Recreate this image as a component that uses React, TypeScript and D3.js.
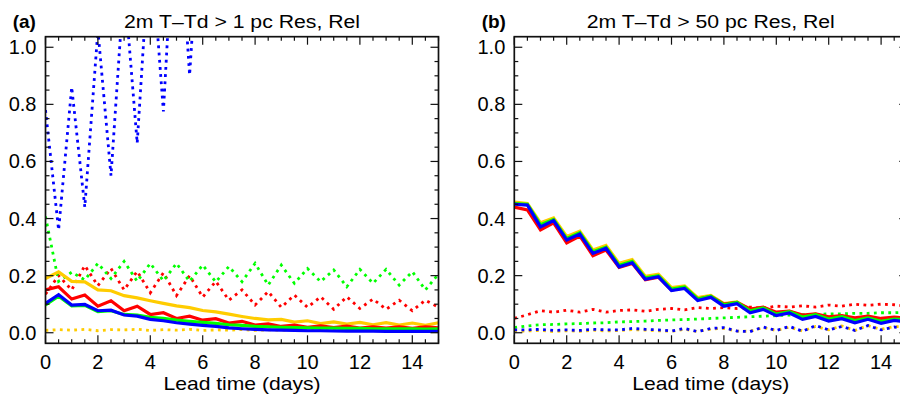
import React from 'react';
import * as d3 from 'd3';

// Lead time (days), 12-hourly
const leadTime = [0, 0.5, 1, 1.5, 2, 2.5, 3, 3.5, 4, 4.5, 5, 5.5, 6, 6.5, 7, 7.5, 8, 8.5, 9, 9.5, 10, 10.5, 11, 11.5, 12, 12.5, 13, 13.5, 14, 14.5, 15];

const xTickLabels = [0, 2, 4, 6, 8, 10, 12, 14];
const yTickLabels = [0.0, 0.2, 0.4, 0.6, 0.8, 1.0];

// Panel (a): 2m T-Td > 1 pc
const aYellowSolid = [0.19, 0.213, 0.18, 0.178, 0.15, 0.147, 0.13, 0.122, 0.112, 0.103, 0.094, 0.088, 0.078, 0.073, 0.065, 0.057, 0.05, 0.045, 0.047, 0.037, 0.042, 0.032, 0.038, 0.03, 0.036, 0.028, 0.035, 0.027, 0.034, 0.026, 0.035];
const aRedSolid = [0.15, 0.161, 0.118, 0.132, 0.093, 0.112, 0.077, 0.093, 0.064, 0.07, 0.05, 0.058, 0.044, 0.049, 0.034, 0.04, 0.027, 0.031, 0.022, 0.027, 0.019, 0.024, 0.018, 0.023, 0.016, 0.021, 0.016, 0.021, 0.015, 0.021, 0.017];
const aGreenSolid = [0.097, 0.128, 0.094, 0.096, 0.074, 0.077, 0.064, 0.062, 0.054, 0.05, 0.044, 0.04, 0.036, 0.033, 0.028, 0.026, 0.022, 0.021, 0.019, 0.018, 0.017, 0.016, 0.016, 0.015, 0.015, 0.014, 0.014, 0.014, 0.014, 0.013, 0.014];
const aBlueSolid = [0.103, 0.133, 0.097, 0.099, 0.077, 0.079, 0.062, 0.058, 0.047, 0.042, 0.035, 0.03, 0.026, 0.022, 0.017, 0.014, 0.012, 0.01, 0.009, 0.008, 0.007, 0.007, 0.006, 0.006, 0.006, 0.006, 0.005, 0.005, 0.005, 0.005, 0.005];
const aYellowDot = [0.008, 0.011, 0.009, 0.012, 0.007, 0.011, 0.01, 0.012, 0.008, 0.011, 0.009, 0.012, 0.008, 0.01, 0.009, 0.011, 0.008, 0.01, 0.009, 0.011, 0.008, 0.01, 0.009, 0.011, 0.008, 0.01, 0.009, 0.011, 0.008, 0.01, 0.009];
const aRedDot = [0.135, 0.2, 0.15, 0.235, 0.165, 0.225, 0.15, 0.215, 0.14, 0.21, 0.13, 0.2, 0.125, 0.18, 0.114, 0.15, 0.097, 0.144, 0.089, 0.132, 0.089, 0.126, 0.082, 0.126, 0.085, 0.118, 0.082, 0.114, 0.077, 0.114, 0.089];
const aGreenDot = [0.407, 0.18, 0.212, 0.185, 0.243, 0.19, 0.25, 0.18, 0.243, 0.182, 0.243, 0.18, 0.237, 0.178, 0.232, 0.179, 0.243, 0.167, 0.237, 0.173, 0.225, 0.179, 0.22, 0.161, 0.222, 0.173, 0.222, 0.167, 0.214, 0.15, 0.206];
const aBlueDot = [0.78, 0.36, 0.86, 0.44, 1.06, 0.55, 1.23, 0.664, 1.39, 0.775, 1.6, 0.903, 1.6];

// Panel (b): 2m T-Td > 50 pc
const bYellowSolid = [0.458, 0.453, 0.385, 0.402, 0.337, 0.356, 0.29, 0.306, 0.243, 0.256, 0.198, 0.205, 0.158, 0.164, 0.123, 0.131, 0.102, 0.108, 0.08, 0.089, 0.068, 0.076, 0.058, 0.065, 0.05, 0.058, 0.045, 0.054, 0.042, 0.05, 0.048];
const bRedSolid = [0.44, 0.43, 0.36, 0.385, 0.315, 0.339, 0.27, 0.29, 0.229, 0.243, 0.186, 0.195, 0.15, 0.158, 0.118, 0.127, 0.1, 0.106, 0.083, 0.09, 0.072, 0.076, 0.062, 0.066, 0.056, 0.06, 0.052, 0.058, 0.05, 0.055, 0.05];
const bGreenSolid = [0.452, 0.45, 0.378, 0.397, 0.33, 0.35, 0.284, 0.3, 0.236, 0.25, 0.192, 0.2, 0.153, 0.16, 0.118, 0.128, 0.098, 0.106, 0.077, 0.087, 0.065, 0.074, 0.055, 0.063, 0.048, 0.056, 0.043, 0.052, 0.04, 0.048, 0.045];
const bBlueSolid = [0.45, 0.447, 0.371, 0.393, 0.325, 0.346, 0.278, 0.296, 0.231, 0.245, 0.187, 0.196, 0.148, 0.155, 0.113, 0.124, 0.093, 0.102, 0.07, 0.082, 0.06, 0.069, 0.047, 0.057, 0.041, 0.049, 0.035, 0.047, 0.033, 0.043, 0.038];
const bYellowDot = [0.005, 0.006, 0.008, 0.004, 0.007, 0.005, 0.009, 0.006, 0.008, 0.011, 0.009, 0.007, 0.005, 0.012, 0.004, 0.013, 0.015, 0.006, 0.005, 0.018, 0.008, 0.02, 0.006, 0.022, 0.01, 0.024, 0.008, 0.025, 0.012, 0.022, 0.02];
const bRedDot = [0.05, 0.063, 0.077, 0.072, 0.079, 0.072, 0.082, 0.072, 0.078, 0.08, 0.075, 0.082, 0.085, 0.08, 0.088, 0.085, 0.088, 0.085, 0.09, 0.086, 0.093, 0.09, 0.094, 0.09, 0.097, 0.093, 0.1, 0.096, 0.1, 0.098, 0.093];
const bGreenDot = [0.018, 0.024, 0.028, 0.029, 0.031, 0.032, 0.034, 0.035, 0.038, 0.039, 0.041, 0.043, 0.045, 0.046, 0.048, 0.05, 0.052, 0.054, 0.056, 0.058, 0.06, 0.062, 0.063, 0.064, 0.066, 0.066, 0.068, 0.068, 0.07, 0.07, 0.072];
const bBlueDot = [0.01, 0.01, 0.012, 0.008, 0.01, 0.008, 0.012, 0.01, 0.01, 0.015, 0.012, 0.01, 0.006, 0.015, 0.004, 0.015, 0.018, 0.006, 0.004, 0.02, 0.008, 0.022, 0.005, 0.025, 0.01, 0.022, 0.008, 0.025, 0.01, 0.02, 0.015];

const YELLOW = '#ffcc00';
const RED = '#ff0000';
const GREEN = '#00ff00';
const BLUE = '#0000ff';

type Series = { values: number[]; color: string; dotted: boolean };

const panelA: Series[] = [
  { values: aYellowDot, color: YELLOW, dotted: true },
  { values: aRedDot, color: RED, dotted: true },
  { values: aGreenDot, color: GREEN, dotted: true },
  { values: aBlueDot, color: BLUE, dotted: true },
  { values: aYellowSolid, color: YELLOW, dotted: false },
  { values: aRedSolid, color: RED, dotted: false },
  { values: aGreenSolid, color: GREEN, dotted: false },
  { values: aBlueSolid, color: BLUE, dotted: false },
];

const panelB: Series[] = [
  { values: bYellowDot, color: YELLOW, dotted: true },
  { values: bRedDot, color: RED, dotted: true },
  { values: bGreenDot, color: GREEN, dotted: true },
  { values: bBlueDot, color: BLUE, dotted: true },
  { values: bYellowSolid, color: YELLOW, dotted: false },
  { values: bRedSolid, color: RED, dotted: false },
  { values: bGreenSolid, color: GREEN, dotted: false },
  { values: bBlueSolid, color: BLUE, dotted: false },
];

const FONT = "'Liberation Sans', Arial, Helvetica, sans-serif";
const TOP = 36.7;
const BOTTOM = 343.3;

function Panel({ id, x0, x1, label, labelX, title, titleWidth, series }: { id: string; x0: number; x1: number; label: string; labelX: number; title: string; titleWidth: number; series: Series[] }) {
  const x = d3.scaleLinear().domain([0, 15]).range([x0, x1]);
  const y = d3.scaleLinear().domain([-0.037, 1.037]).range([BOTTOM, TOP]);
  const line = d3
    .line<number>()
    .x((_, i) => x(leadTime[i]))
    .y((d) => y(d));
  const xMinor = d3.range(0, 15.001, 0.5);
  const yMinor = d3.range(0, 1.0001, 0.05);
  const isMajorX = (v: number) => Math.abs(v / 2 - Math.round(v / 2)) < 1e-6;
  const isMajorY = (v: number) => Math.abs(v / 0.2 - Math.round(v / 0.2)) < 1e-6;
  const cx = (x0 + x1) / 2;
  const axisColor = '#111';
  return (
    <g>
      <defs>
        <clipPath id={`clip-${id}`}>
          <rect x={x0} y={TOP} width={x1 - x0} height={BOTTOM - TOP} />
        </clipPath>
      </defs>
      <g clipPath={`url(#clip-${id})`}>
        {series.map((s, i) => (
          <path
            key={i}
            d={line(s.values) || ''}
            fill="none"
            stroke={s.color}
            strokeWidth={s.dotted ? 2.8 : 3.2}
            strokeDasharray={s.dotted ? '2.8,4.4' : undefined}
            strokeLinejoin="miter"
          />
        ))}
      </g>
      {xMinor.map((v, i) => {
        const len = isMajorX(v) ? 8 : 4;
        return (
          <g key={`xt${i}`} stroke={axisColor} strokeWidth={1.2}>
            <line x1={x(v)} x2={x(v)} y1={BOTTOM} y2={BOTTOM - len} />
            <line x1={x(v)} x2={x(v)} y1={TOP} y2={TOP + len} />
          </g>
        );
      })}
      {yMinor.map((v, i) => {
        const len = isMajorY(v) ? 8 : 4;
        return (
          <g key={`yt${i}`} stroke={axisColor} strokeWidth={1.2}>
            <line x1={x0} x2={x0 + len} y1={y(v)} y2={y(v)} />
            <line x1={x1} x2={x1 - len} y1={y(v)} y2={y(v)} />
          </g>
        );
      })}
      <rect x={x0} y={TOP} width={x1 - x0} height={BOTTOM - TOP} fill="none" stroke={axisColor} strokeWidth={1.7} />
      {xTickLabels.map((v) => (
        <text key={`xl${v}`} x={x(v)} y={368.5} textAnchor="middle" fontFamily={FONT} fontSize={20} fill="#000">
          {v}
        </text>
      ))}
      {yTickLabels.map((v) => (
        <text key={`yl${v}`} x={x0 - 9} y={y(v) + 7} textAnchor="end" fontFamily={FONT} fontSize={20} fill="#000">
          {v.toFixed(1)}
        </text>
      ))}
      <text x={cx} y={389.5} textAnchor="middle" fontFamily={FONT} fontSize={18.5} textLength={157} lengthAdjust="spacingAndGlyphs" fill="#000">
        Lead time (days)
      </text>
      <text x={cx} y={28.3} textAnchor="middle" fontFamily={FONT} fontSize={18} textLength={titleWidth} lengthAdjust="spacingAndGlyphs" fill="#000">
        {title}
      </text>
      <text x={labelX} y={28.3} fontFamily={FONT} fontSize={19} fontWeight="bold" fill="#000">
        {label}
      </text>
    </g>
  );
}

export default function App() {
  return (
    <svg width={900} height={398} style={{ position: 'absolute', left: 0, top: 0, background: '#fff' }}>
      <rect x={0} y={0} width={900} height={398} fill="#fff" />
      <Panel id="a" x0={45.5} x1={438.5} label="(a)" labelX={12.7} title="2m T–Td > 1 pc Res, Rel" titleWidth={236} series={panelA} />
      <Panel id="b" x0={514.3} x1={907.3} label="(b)" labelX={481.7} title="2m T–Td > 50 pc Res, Rel" titleWidth={248} series={panelB} />
    </svg>
  );
}
